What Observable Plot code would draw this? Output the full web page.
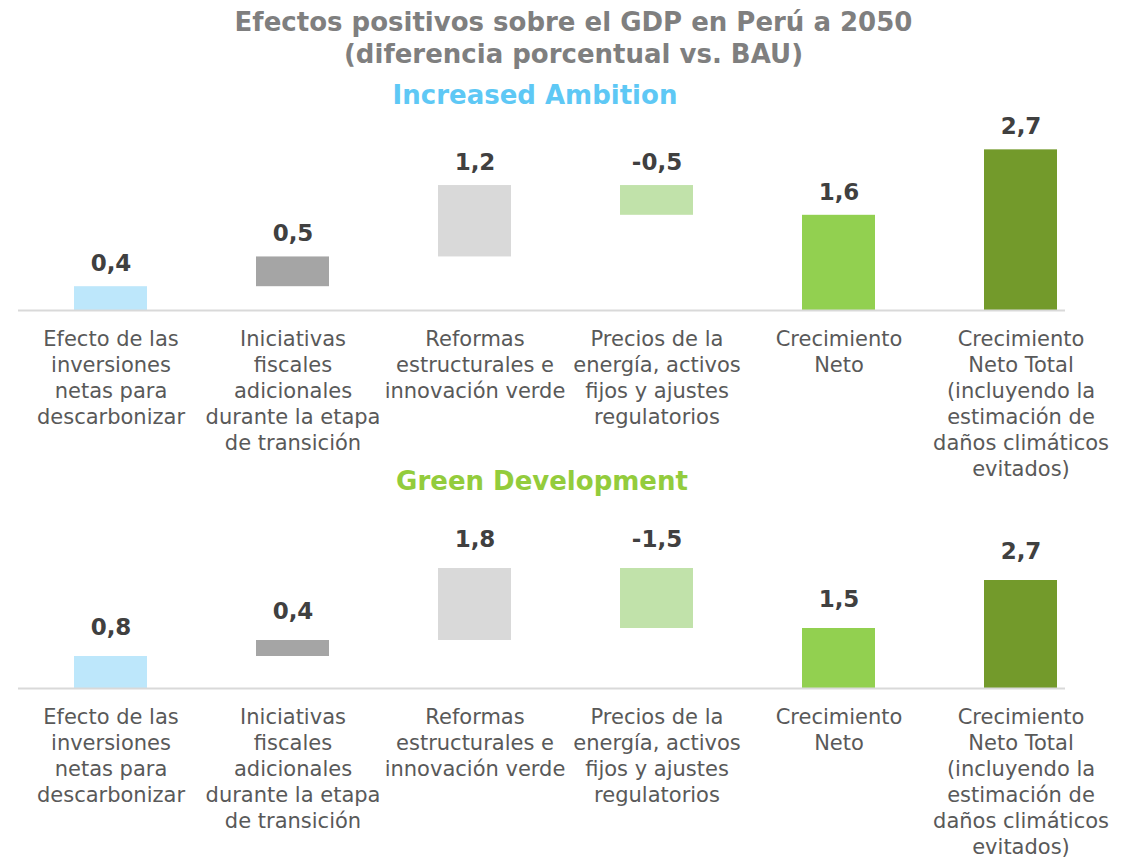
<!DOCTYPE html>
<html>
<head>
<meta charset="utf-8">
<script src="https://cdn.jsdelivr.net/npm/d3@7"></script>
<script src="https://cdn.jsdelivr.net/npm/@observablehq/plot@0.6"></script>
<style>
  html, body { margin: 0; padding: 0; background: #fff; }
  #wrap { position: relative; width: 1135px; height: 857px; overflow: hidden; font-family: "DejaVu Sans", Verdana, sans-serif; }
  .t { position: absolute; text-align: center; font-weight: bold; white-space: nowrap; }
  .plot { position: absolute; left: 0; }
  .plot svg { overflow: visible; }
</style>
</head>
<body>
<div id="wrap">
  <div class="t" style="left:6px;top:6px;width:1135px;font-size:26px;line-height:32px;color:#7f7f7f;">Efectos positivos sobre el GDP en Perú a 2050<br>(diferencia porcentual vs. BAU)</div>
  <div class="t" style="left:0;top:79px;width:1070px;font-size:26px;line-height:32px;color:#5ec8f5;">Increased Ambition</div>
  <div class="t" style="left:0;top:465px;width:1084px;font-size:26px;line-height:32px;color:#93cc3c;">Green Development</div>
  <div id="p1" class="plot" style="top:120px;"></div>
  <div id="p2" class="plot" style="top:500px;"></div>
</div>
<script>
const categories = [
  "Efecto de las\ninversiones\nnetas para\ndescarbonizar",
  "Iniciativas\nfiscales\nadicionales\ndurante la etapa\nde transición",
  "Reformas\nestructurales e\ninnovación verde",
  "Precios de la\nenergía, activos\nfijos y ajustes\nregulatorios",
  "Crecimiento\nNeto",
  "Crecimiento\nNeto Total\n(incluyendo la\nestimación de\ndaños climáticos\nevitados)"
];
const kinds = ["step", "step", "step", "step", "total", "total"];
const increasedAmbition = [0.4, 0.5, 1.2, -0.5, 1.6, 2.7];
const greenDevelopment = [0.8, 0.4, 1.8, -1.5, 1.5, 2.7];
const barColors = ["#bde7fb", "#a5a5a5", "#d9d9d9", "#c1e2aa", "#92d050", "#739a2b"];

function rows(values) {
  let acc = 0;
  return values.map((v, i) => {
    let y1, y2;
    if (kinds[i] === "step") { y1 = acc; y2 = acc + v; acc += v; }
    else { y1 = 0; y2 = v; }
    return { cat: categories[i], value: v, y1, y2, top: Math.max(y1, y2), color: barColors[i] };
  });
}

const fmt = v => v.toFixed(1).replace(".", ",");

function chart(values, height, base, pxPerUnit, labelDy) {
  const data = rows(values);
  return Plot.plot({
    width: 1135,
    height,
    marginLeft: 18,
    marginRight: 70,
    marginTop: 0,
    marginBottom: height - base,
    style: { fontFamily: "DejaVu Sans, Verdana, sans-serif", background: "transparent", overflow: "visible" },
    x: { domain: categories, range: [-38.2, 1168.2], padding: 0.6, axis: null },
    y: { domain: [0, 3], range: [base, base - 3 * pxPerUnit], axis: null },
    color: { type: "identity" },
    marks: [
      Plot.barY(data, { x: "cat", y1: "y1", y2: "y2", fill: "color" }),
      Plot.ruleY([0], { stroke: "#d9d9d9", strokeWidth: 2 }),
      Plot.text(data, { x: "cat", y: "top", text: d => fmt(d.value), dy: labelDy, fontSize: 23, fontWeight: "bold", fill: "#404040" }),
      Plot.axisX({ tickSize: 0, tickPadding: 17, label: null, fontSize: 21, lineHeight: 26 / 21, fill: "#595959", color: "#595959" })
    ]
  });
}

document.getElementById("p1").append(chart(increasedAmbition, 360, 190, 59.5, -23));
document.getElementById("p2").append(chart(greenDevelopment, 357, 188, 40, -29));
</script>
</body>
</html>
